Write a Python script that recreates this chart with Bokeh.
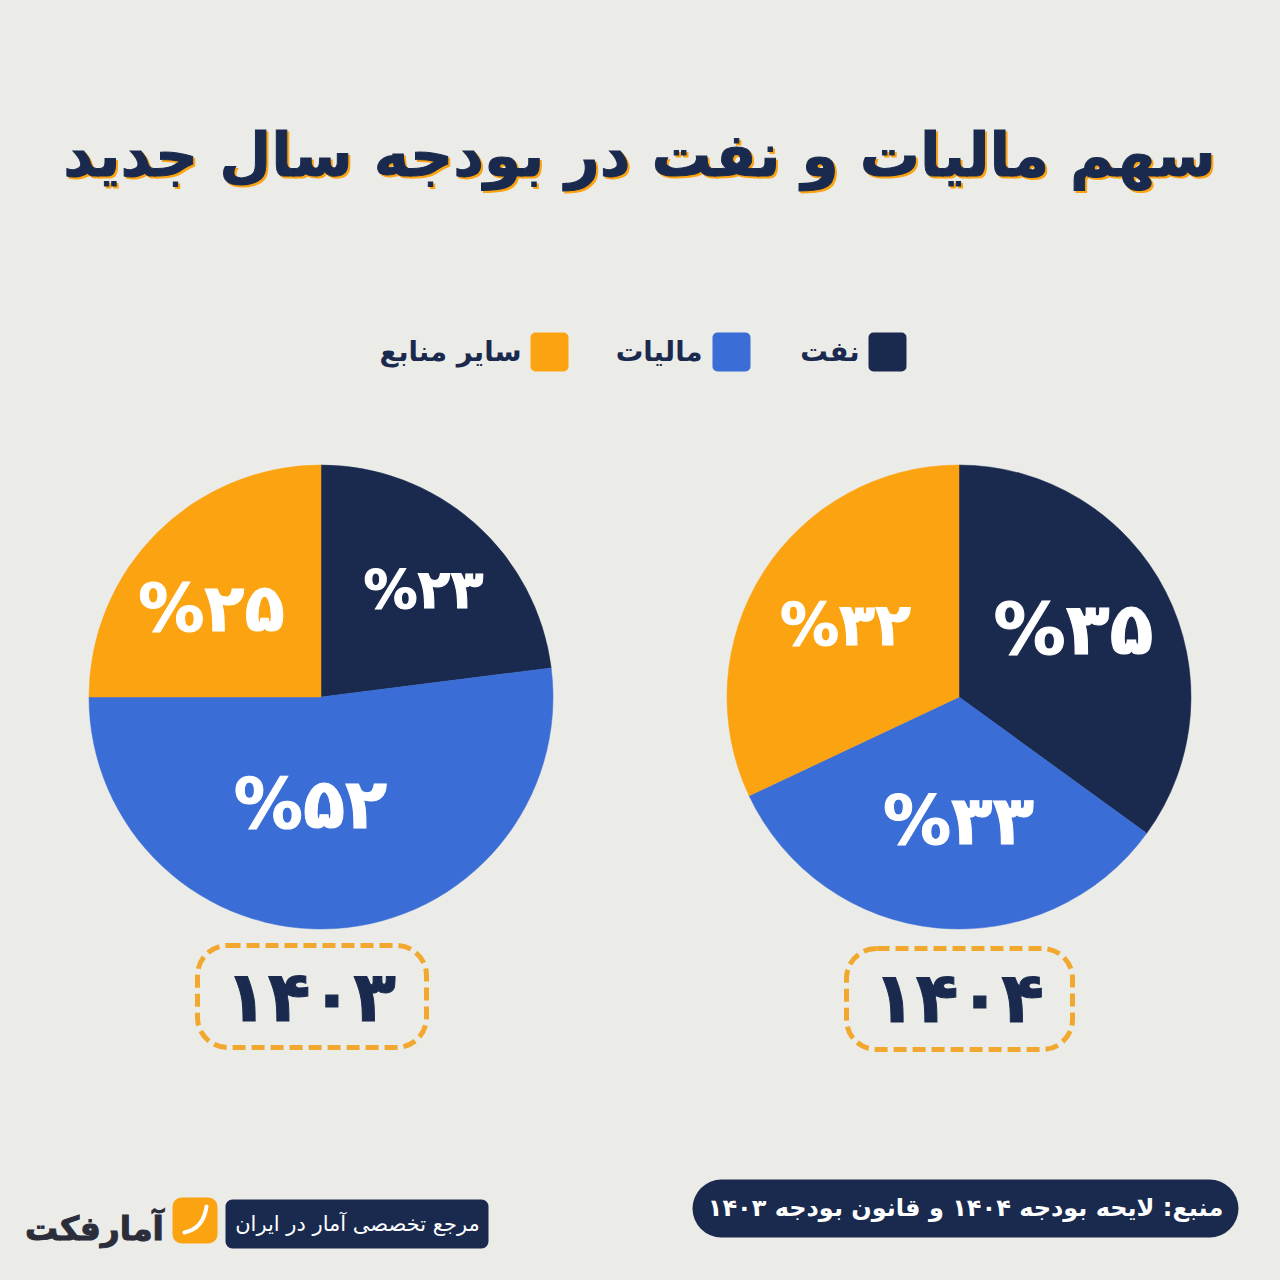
import math
from bokeh.plotting import figure
from bokeh.models import BoxAnnotation, ColumnDataSource
from bokeh.core.properties import value
from bokeh.embed import file_html
from bokeh.resources import INLINE

# ---- data ----
series_names = ["نفت", "مالیات", "سایر منابع"]
values_1403 = [23, 52, 25]
values_1404 = [35, 33, 32]
year_labels = ["۱۴۰۳", "۱۴۰۴"]
labels_1403 = ["%۲۳", "%۵۲", "%۲۵"]
labels_1404 = ["%۳۵", "%۳۳", "%۳۲"]
title_text = "سهم مالیات و نفت در بودجه سال جدید"
source_text = "منبع: لایحه بودجه ۱۴۰۴ و قانون بودجه ۱۴۰۳"
tagline_text = "مرجع تخصصی آمار در ایران"
brand_text = "آمارفکت"

# ---- style ----
NAVY = "#1a2a4e"
BLUE = "#3b6dd6"
ORANGE = "#fca311"
DASH = "#f2a82e"
BG = "#ebebe8"
colors = [NAVY, BLUE, ORANGE]
FONT = value("DejaVu Sans")

p = figure(width=1280, height=1280, x_range=(0, 1280), y_range=(0, 1280),
           output_backend="svg", toolbar_location=None,
           background_fill_color=BG, border_fill_color=BG,
           min_border=0, outline_line_color=None)
p.axis.visible = False
p.grid.visible = False


def Y(py):
    return 1280 - py


def txt(x, y, s, size, color, style="bold", align="center", outline=None):
    kw = {"text_outline_color": outline} if outline else {}
    p.text([x], [Y(y)], text=[s], text_font=FONT, text_font_size=f"{size}px",
           text_font_style=style, text_color=color, text_align=align,
           text_baseline="middle", **kw)


def box(l, r, t, b, radius, fill=None, line=None, width=0, dash="solid"):
    p.add_layout(BoxAnnotation(left=l, right=r, top=Y(t), bottom=Y(b),
                               border_radius=radius,
                               fill_color=fill, fill_alpha=1 if fill else 0,
                               line_color=line, line_alpha=1 if line else 0,
                               line_width=width, line_dash=dash,
                               level="underlay"))


def pie(cx, cy, r, vals):
    total = sum(vals)
    start, end, acc = [], [], 0
    for v in vals:
        start.append(math.pi / 2 - 2 * math.pi * acc / total)
        acc += v
        end.append(math.pi / 2 - 2 * math.pi * acc / total)
    src = ColumnDataSource(dict(start=start, end=end, color=colors))
    p.wedge(x=cx, y=Y(cy), radius=r, start_angle="start", end_angle="end",
            direction="clock", fill_color="color", line_color="color",
            line_width=0.5, source=src)


# title (orange halo underneath, navy on top)
txt(641, 156, title_text, 60, ORANGE, outline=ORANGE)
txt(639, 154, title_text, 60, NAVY, outline=NAVY)

# legend
for (l, r), col in zip([(868, 906), (712, 750), (530, 568)], colors):
    box(l, r, 332, 371, 5, fill=col)
for xr, name in zip([859, 702, 521], series_names):
    txt(xr, 350, name, 27.5, NAVY, align="right")

# pies
pie(320.5, 696.5, 232, values_1403)
pie(958.5, 696.5, 232, values_1404)

for (x, y, size), s in zip([(423, 589, 54), (310, 803, 69), (211, 608, 66)], labels_1403):
    txt(x, y, s, size, "white", outline="white")
for (x, y, size), s in zip([(1073, 628, 72), (958, 820, 68), (845, 624, 59)], labels_1404):
    txt(x, y, s, size, "white", outline="white")

# year boxes
box(197, 426, 945, 1047, 30, line=DASH, width=5, dash="13 6")
box(846, 1072, 948, 1049, 30, line=DASH, width=5, dash="13 6")
txt(310, 996, year_labels[0], 70, NAVY, outline=NAVY)
txt(958, 997, year_labels[1], 70, NAVY, outline=NAVY)

# footer
box(692, 1238, 1179, 1237, 29, fill=NAVY)
txt(965, 1207, source_text, 24, "white")
box(225, 488, 1199, 1248, 7, fill=NAVY)
txt(357, 1223, tagline_text, 21, "white", style="normal")
box(172, 217, 1197, 1243, 9, fill=ORANGE)
p.quadratic(x0=[184], y0=[Y(1232)], x1=[206], y1=[Y(1206)], cx=[203], cy=[Y(1228)],
            line_color="white", line_width=4, line_cap="round")
txt(94, 1228, brand_text, 33, "#2b2e3a", outline="#2b2e3a")

html = file_html(p, INLINE)
html = html.replace("<body>", f'<body style="background:{BG}">')
open("out.html", "w").write(html)
